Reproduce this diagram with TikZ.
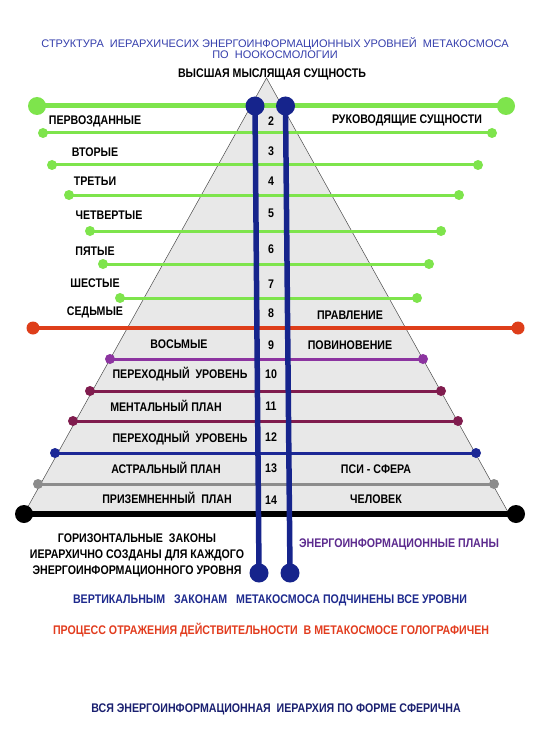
\documentclass[tikz,border=0pt]{standalone}
\usepackage{fontspec}
\setmainfont{Liberation Sans}
\newfontfamily\nb{Liberation Sans}[FakeStretch=0.85]
\definecolor{cgreen}{RGB}{126,228,76}
\definecolor{cred}{RGB}{222,62,26}
\definecolor{cpurple}{RGB}{140,52,160}
\definecolor{cmaroon}{RGB}{128,28,78}
\definecolor{cblue}{RGB}{28,40,150}
\definecolor{cgray}{RGB}{140,140,140}
\definecolor{cnavy}{RGB}{22,36,140}
\definecolor{cfill}{RGB}{232,232,232}
\definecolor{ctitle}{RGB}{52,62,172}
\definecolor{cplan}{RGB}{92,42,142}
\definecolor{cvert}{RGB}{30,42,142}
\definecolor{cproc}{RGB}{226,60,30}
\definecolor{call}{RGB}{26,32,112}
\tikzset{
  lab/.style={font=\nb\bfseries\fontsize{12.5}{14}\selectfont, inner sep=0pt, text=black},
  num/.style={font=\nb\bfseries\fontsize{12.5}{14}\selectfont, inner sep=0pt, text=black},
  dotg/.style={circle, fill=cgreen, inner sep=0pt, minimum size=10pt},
  dotgbig/.style={circle, fill=cgreen, inner sep=0pt, minimum size=18pt},
  dotr/.style={circle, fill=cred, inner sep=0pt, minimum size=13pt},
  dotc/.style={circle, fill=#1, inner sep=0pt, minimum size=10pt},
  dotk/.style={circle, fill=black, inner sep=0pt, minimum size=18pt},
  dotv/.style={circle, fill=cnavy, inner sep=0pt, minimum size=19pt},
  hline/.style={line width=3pt},
}
\begin{document}
\begin{tikzpicture}[x=1pt,y=-1pt]
\useasboundingbox (0,0) rectangle (550,746);
\fill[white] (0,0) rectangle (550,746);
% pyramid
\coordinate (apex) at (266.5,78);
\coordinate (bl) at (25,512);
\coordinate (br) at (508,512);
\filldraw[fill=cfill, draw=black!70, line width=0.5pt] (apex) -- (bl) -- (br) -- cycle;
% horizontal levels
\node[dotgbig] (l1) at (37,106) {};  \node[dotgbig] (r1) at (506,106) {};
\draw[cgreen, line width=5pt] (l1.center) -- (r1.center);
\foreach \i/\y/\xl/\xr in {2/133/43/492, 3/165/52/478, 4/195/69/459, 5/231/90/441, 6/264/103/429, 7/298/120/417}{
  \node[dotg] (l\i) at (\xl,\y) {}; \node[dotg] (r\i) at (\xr,\y) {};
  \draw[cgreen, hline] (l\i.center) -- (r\i.center);
}
\node[dotr] (lred) at (33,328) {}; \node[dotr] (rred) at (518,328) {};
\draw[cred, line width=4pt] (lred.center) -- (rred.center);
\foreach \n/\c/\y/\xl/\xr in {p/cpurple/359/110/423, m1/cmaroon/391/90/441, m2/cmaroon/421/73/458, b/cblue/453/55/476, g/cgray/484/38/494}{
  \node[dotc=\c] (l\n) at (\xl,\y) {}; \node[dotc=\c] (r\n) at (\xr,\y) {};
  \draw[\c, hline] (l\n.center) -- (r\n.center);
}
\node[dotk] (lk) at (24,514) {}; \node[dotk] (rk) at (516,514) {};
\draw[black, line width=5.5pt] (lk.center) -- (rk.center);
% vertical laws
\node[dotv] (vt1) at (255,106) {}; \node[dotv] (vb1) at (259,573) {};
\node[dotv] (vt2) at (285.5,106) {}; \node[dotv] (vb2) at (290,573) {};
\draw[cnavy, line width=5.5pt] (vt1.center) -- (vb1.center);
\draw[cnavy, line width=5.5pt] (vt2.center) -- (vb2.center);
% numbers
\foreach \k/\y in {2/121,3/151,4/181,5/213,6/249,7/284,8/313,9/345,10/374,11/406,12/437,13/468,14/500}{
  \node[num] (n\k) at (271,\y) {\k};
}
% left labels
\node[lab] (t1) at (95,121) {ПЕРВОЗДАННЫЕ};
\node[lab] (t2) at (95,152) {ВТОРЫЕ};
\node[lab] (t3) at (95,181) {ТРЕТЬИ};
\node[lab] (t4) at (109,215) {ЧЕТВЕРТЫЕ};
\node[lab] (t5) at (95,251) {ПЯТЫЕ};
\node[lab] (t6) at (95,283) {ШЕСТЫЕ};
\node[lab] (t7) at (95,312) {СЕДЬМЫЕ};
\node[lab] (t8) at (179,344) {ВОСЬМЫЕ};
\node[lab] (t9) at (180,374) {ПЕРЕХОДНЫЙ~~УРОВЕНЬ};
\node[lab] (t10) at (166,406) {МЕНТАЛЬНЫЙ ПЛАН};
\node[lab] (t11) at (180,438) {ПЕРЕХОДНЫЙ~~УРОВЕНЬ};
\node[lab] (t12) at (166,468) {АСТРАЛЬНЫЙ ПЛАН};
\node[lab] (t13) at (167,498) {ПРИЗЕМНЕННЫЙ~~ПЛАН};
% right labels
\node[lab] (s1) at (407,120) {РУКОВОДЯЩИЕ СУЩНОСТИ};
\node[lab] (s2) at (350,315) {ПРАВЛЕНИЕ};
\node[lab] (s3) at (350,345) {ПОВИНОВЕНИЕ};
\node[lab] (s4) at (376,469) {ПСИ - СФЕРА};
\node[lab] (s5) at (376,499) {ЧЕЛОВЕК};
% titles
\node[font=\fontsize{11}{11.5}\selectfont, text=ctitle, inner sep=0pt, align=center] (title) at (275,48)
  {СТРУКТУРА~~ИЕРАРХИЧЕСИХ ЭНЕРГОИНФОРМАЦИОННЫХ УРОВНЕЙ~~МЕТАКОСМОСА\\ПО~~НООКОСМОЛОГИИ};
\node[lab] (top) at (272,74) {ВЫСШАЯ МЫСЛЯЩАЯ СУЩНОСТЬ};
% bottom texts
\node[lab, font=\nb\bfseries\fontsize{12.5}{16}\selectfont, align=center] (horiz) at (137,555)
  {ГОРИЗОНТАЛЬНЫЕ~~ЗАКОНЫ\\ИЕРАРХИЧНО СОЗДАНЫ ДЛЯ КАЖДОГО\\ЭНЕРГОИНФОРМАЦИОННОГО УРОВНЯ};
\node[lab, text=cplan] (plans) at (399,544) {ЭНЕРГОИНФОРМАЦИОННЫЕ ПЛАНЫ};
\node[lab, text=cvert] (vert) at (270,600) {ВЕРТИКАЛЬНЫМ~~~ЗАКОНАМ~~~МЕТАКОСМОСА ПОДЧИНЕНЫ ВСЕ УРОВНИ};
\node[lab, text=cproc] (proc) at (271,630) {ПРОЦЕСС ОТРАЖЕНИЯ ДЕЙСТВИТЕЛЬНОСТИ~~В МЕТАКОСМОСЕ ГОЛОГРАФИЧЕН};
\node[lab, text=call] (all) at (276,709) {ВСЯ ЭНЕРГОИНФОРМАЦИОННАЯ~~ИЕРАРХИЯ ПО ФОРМЕ СФЕРИЧНА};
\end{tikzpicture}
\end{document}
